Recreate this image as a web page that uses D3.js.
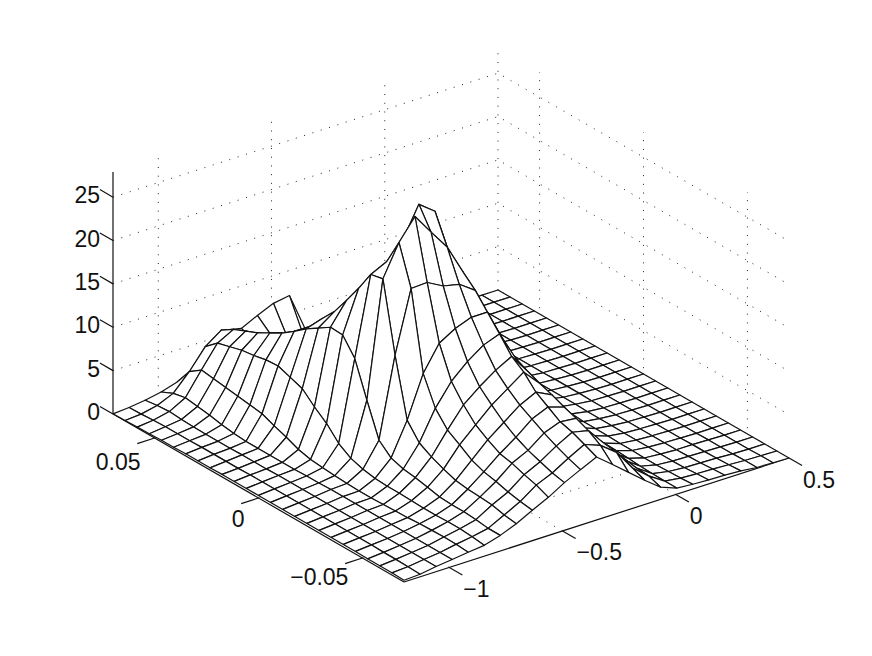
<!DOCTYPE html>
<html lang="en">
	<head>
		<meta charset="utf-8">
		<title>D3: mesh surface</title>
		<script src="https://cdn.jsdelivr.net/npm/d3@7"></script>
		<style>
			body { margin: 0; background: #fff; }
			text { font-family: "Liberation Sans", sans-serif; font-size: 23px; fill: #111; }
		</style>
	</head>
	<body>
		<script>
			//Axis limits and ticks
			var xLim = [-1.2, 0.5];
			var yLim = [-0.07, 0.07];
			var zLim = [0, 27.9];
			var xTicks = [-1, -0.5, 0, 0.5];
			var yTicks = [-0.05, 0, 0.05];
			var zTicks = [0, 5, 10, 15, 20, 25];
			var xTickLabels = ["\u22121", "\u22120.5", "0", "0.5"];
			var yTickLabels = ["\u22120.05", "0", "0.05"];
			var zTickLabels = ["0", "5", "10", "15", "20", "25"];

			//Surface heights: one array per x grid line, y grid index 0..24
			var zColumns = [
				[.2,.25,.25,.25,.3,.3,.3,.3,.3,.3,.3,.3,.3,.3,.3,.3,.25,.25,.25,.2,.2,.15,.1,.05,.02],
				[.3,.35,.4,.4,.45,.45,.45,.45,.45,.45,.45,.45,.45,.45,.45,.4,.4,.4,.4,.35,.35,.35,.3,.2,.15],
				[.6,.6,.6,.6,.6,.6,.6,.6,.6,.6,.6,.6,.6,.6,.55,.55,.55,.5,.5,.5,.55,.6,.7,.6,.4],
				[.8,.8,.8,.8,.8,.8,.8,.8,.8,.8,.8,.75,.75,.7,.7,.7,.7,.7,.8,1,1.3,1.5,1.7,1.4,.75],
				[1.05,1.15,1.2,1.15,1.1,1,.95,.9,.85,.85,.9,1,1.1,1.25,1.6,2.2,2.7,3.3,3.5,3.7,3.9,4.1,4.3,3.3,1.3],
				[1.25,1.43,1.55,1.55,1.5,1.5,1.55,1.6,1.6,1.7,1.95,2.4,3.3,4.8,5.9,7.2,7.7,8.2,8.1,7.8,7.6,7.2,6.8,5.6,2.2],
				[1.8,1.8,2,2.1,2.1,2.2,2.5,2.8,3,3.45,4.7,8.5,12.5,14.4,14.5,13.6,12.7,11.6,10.6,9.8,9,8.4,7.8,6.9,4.1],
				[2.55,2.74,3.1,3.2,3.3,3.5,4,4.6,5.4,7.2,13.9,21.9,21.6,19.2,17,14.9,13.3,11.6,10.1,8.8,8,7.4,6.6,5.8,5.5],
				[3.5,3.7,4,4.4,4.7,5.25,6.2,7.1,8.8,12,21,25.5,22.5,19,16,13,11,9,7.5,6.5,5.5,5,4.8,4.6,5.1],
				[4.4,5,5.4,5.9,6.2,7,7.9,9.4,11.3,14.9,21.1,27.9,24.4,19,15,12,9.5,7.5,6,5,4.5,4.2,4.2,4.8,6],
				[5.5,5.8,6.3,6.8,7.5,8.4,9.6,10.9,13,16,20.1,25.5,27.9,21,15,11.5,9,7,5.5,4.6,4,3.8,3.8,4.2,6.8],
				[6.4,6.9,7.5,8.2,9,9.8,10.9,12.2,14.3,16.7,19.7,23.2,26.5,18,13,10,8,6,4.8,4,3.5,3.3,3.4,3.9,7.1],
				[7.26,7.9,8.5,8.9,9.8,10.7,12.2,13.2,15,16.7,18.4,19.7,20.5,15,11,8.5,6.5,5,4,3.2,2.8,2.5,2.4,2.4,2.6],
				[5.8,7.2,8.1,8.7,9.2,9.8,10.3,10.9,11.6,12.9,14.4,15,15.5,12,9,7,5.5,4.2,3.2,2.5,2.1,1.8,1.6,1.5,1.5],
				[4.3,5.8,6,6.2,6.5,6.8,7.2,7.6,8,8.4,8.6,8.8,8.8,8,6.5,5.2,4.2,3.2,2.5,2,1.6,1.3,1.1,1,.9],
				[2.8,3.4,4,4.2,4.3,4.4,4.6,4.8,5,5.2,5.3,5.3,5.2,5,4.4,3.8,3.1,2.4,1.9,1.5,1.2,1,.8,.7,.6],
				[1.4,1.9,2,2.1,2.2,2.2,2.3,2.4,2.6,2.8,2.9,3,3,2.9,2.7,2.4,2.1,1.7,1.4,1.1,.9,.7,.6,.5,.4],
				[.7,.7,.75,.8,.9,1,1.05,1.1,1.2,1.3,1.4,1.5,1.5,1.5,1.4,1.3,1.2,1,.9,.7,.6,.5,.4,.3,.25],
				[.55,.45,.4,.35,.35,.4,.4,.45,.5,.5,.6,.6,.65,.65,.65,.6,.55,.5,.45,.4,.35,.3,.25,.2,.15],
				[.45,.35,.25,.2,.2,.2,.2,.2,.25,.25,.25,.3,.3,.3,.3,.3,.25,.25,.2,.2,.15,.15,.1,.1,.1],
				[.4,.3,.2,.15,.1,.1,.1,.1,.1,.1,.1,.1,.15,.15,.15,.1,.1,.1,.1,.1,.1,.05,.05,.05,.05],
				[.3,.2,.15,.1,.1,.05,.05,.05,.05,.05,.05,.05,.05,.05,.05,.05,.05,.05,.05,.05,.05,.05,.05,0,0],
				[.1,.1,.05,.05,.05,0,0,0,0,0,0,0,0,0,0,0,0,0,0,0,0,0,0,0,0],
				[.05,.05,0,0,0,0,0,0,0,0,0,0,0,0,0,0,0,0,0,0,0,0,0,0,0],
				[0,0,0,0,0,0,0,0,0,0,0,0,0,0,0,0,0,0,0,0,0,0,0,0,0]
			];

			var w = 872;
			var h = 656;

			//Parallel projection, each data axis adds its own screen offset
			var originX = 404, originY = 582;
			var xToLeft = d3.scaleLinear().domain(xLim).range([0, 385]);
			var xToUp = d3.scaleLinear().domain(xLim).range([0, 124]);
			var yToLeft = d3.scaleLinear().domain(yLim).range([0, -291]);
			var yToUp = d3.scaleLinear().domain(yLim).range([0, 168]);
			var zToUp = d3.scaleLinear().domain(zLim).range([0, 242]);
			var gridX = d3.scaleLinear().domain([0, 24]).range(xLim);
			var gridY = d3.scaleLinear().domain([0, 24]).range(yLim);

			function project(x, y, z) {
				return [originX + xToLeft(x) + yToLeft(y),
						originY - xToUp(x) - yToUp(y) - zToUp(z)];
			}

			var svg = d3.select("body")
						.append("svg")
						.attr("width", w)
						.attr("height", h);

			var line = d3.line();

			//Dotted grid on the floor and the two back walls
			var gridLines = [];
			xTicks.forEach(function(x) {
				if (x < xLim[1]) {
					gridLines.push([project(x, yLim[0], 0), project(x, yLim[1], 0), project(x, yLim[1], zLim[1])]);
				}
			});
			yTicks.forEach(function(y) {
				gridLines.push([project(xLim[0], y, 0), project(xLim[1], y, 0), project(xLim[1], y, zLim[1])]);
			});
			zTicks.forEach(function(z) {
				gridLines.push([project(xLim[0], yLim[1], z), project(xLim[1], yLim[1], z), project(xLim[1], yLim[0], z)]);
			});
			gridLines.push([project(xLim[1], yLim[1], 0), project(xLim[1], yLim[1], zLim[1])]);

			svg.selectAll("path.grid")
			   .data(gridLines)
			   .enter()
			   .append("path")
			   .attr("class", "grid")
			   .attr("d", line)
			   .attr("fill", "none")
			   .attr("stroke", "#222")
			   .attr("stroke-width", 1)
			   .attr("stroke-dasharray", "1 7.73");

			//Axis lines
			var axisLines = [
				[project(xLim[0], yLim[1], 0), project(xLim[0], yLim[1], zLim[1])],
				[project(xLim[0], yLim[1], 0), project(xLim[0], yLim[0], 0)],
				[project(xLim[0], yLim[0], 0), project(xLim[1], yLim[0], 0)]
			];
			var tickLen = 0.045;
			zTicks.forEach(function(z) {
				axisLines.push([project(xLim[0], yLim[1], z), project(xLim[0], yLim[1] + (yLim[1] - yLim[0]) * tickLen, z)]);
			});
			yTicks.forEach(function(y) {
				axisLines.push([project(xLim[0], y, 0), project(xLim[0] - (xLim[1] - xLim[0]) * tickLen, y, 0)]);
			});
			xTicks.forEach(function(x) {
				axisLines.push([project(x, yLim[0], 0), project(x, yLim[0] - (yLim[1] - yLim[0]) * tickLen, 0)]);
			});

			svg.selectAll("path.axis")
			   .data(axisLines)
			   .enter()
			   .append("path")
			   .attr("class", "axis")
			   .attr("d", line)
			   .attr("fill", "none")
			   .attr("stroke", "#111")
			   .attr("stroke-width", 1.2);

			//Mesh cells, far ones first so the nearer ones hide them
			var cells = [];
			d3.range(24).forEach(function(i) {
				d3.range(24).forEach(function(j) {
					cells.push({ i: i, j: j, depth: xToUp(gridX(i)) + yToUp(gridY(j)) });
				});
			});
			cells.sort(function(a, b) { return b.depth - a.depth; });

			function vertex(i, j) {
				return project(gridX(i), gridY(j), zColumns[i][j]);
			}

			svg.selectAll("path.cell")
			   .data(cells)
			   .enter()
			   .append("path")
			   .attr("class", "cell")
			   .attr("d", function(d) {
			   		return line([vertex(d.i, d.j), vertex(d.i + 1, d.j), vertex(d.i + 1, d.j + 1), vertex(d.i, d.j + 1)]) + "Z";
			   })
			   .attr("fill", "#fff")
			   .attr("stroke", "#111")
			   .attr("stroke-width", 1.2)
			   .attr("stroke-linejoin", "round");

			//Tick labels
			svg.selectAll("text.z")
			   .data(zTicks)
			   .enter()
			   .append("text")
			   .attr("class", "z")
			   .text(function(d, i) { return zTickLabels[i]; })
			   .attr("text-anchor", "end")
			   .attr("x", function(d) { return project(xLim[0], yLim[1], d)[0] - 13; })
			   .attr("y", function(d) { return project(xLim[0], yLim[1], d)[1] + 6; });

			svg.selectAll("text.y")
			   .data(yTicks)
			   .enter()
			   .append("text")
			   .attr("class", "y")
			   .text(function(d, i) { return yTickLabels[i]; })
			   .attr("text-anchor", "end")
			   .attr("x", function(d) { return project(xLim[0], d, 0)[0] - 14; })
			   .attr("y", function(d) { return project(xLim[0], d, 0)[1] + 29 + d * 50; });

			svg.selectAll("text.x")
			   .data(xTicks)
			   .enter()
			   .append("text")
			   .attr("class", "x")
			   .text(function(d, i) { return xTickLabels[i]; })
			   .attr("text-anchor", "start")
			   .attr("x", function(d) { return project(d, yLim[0], 0)[0] + 14; })
			   .attr("y", function(d) { return project(d, yLim[0], 0)[1] + 29.5; });
		</script>
	</body>
</html>
